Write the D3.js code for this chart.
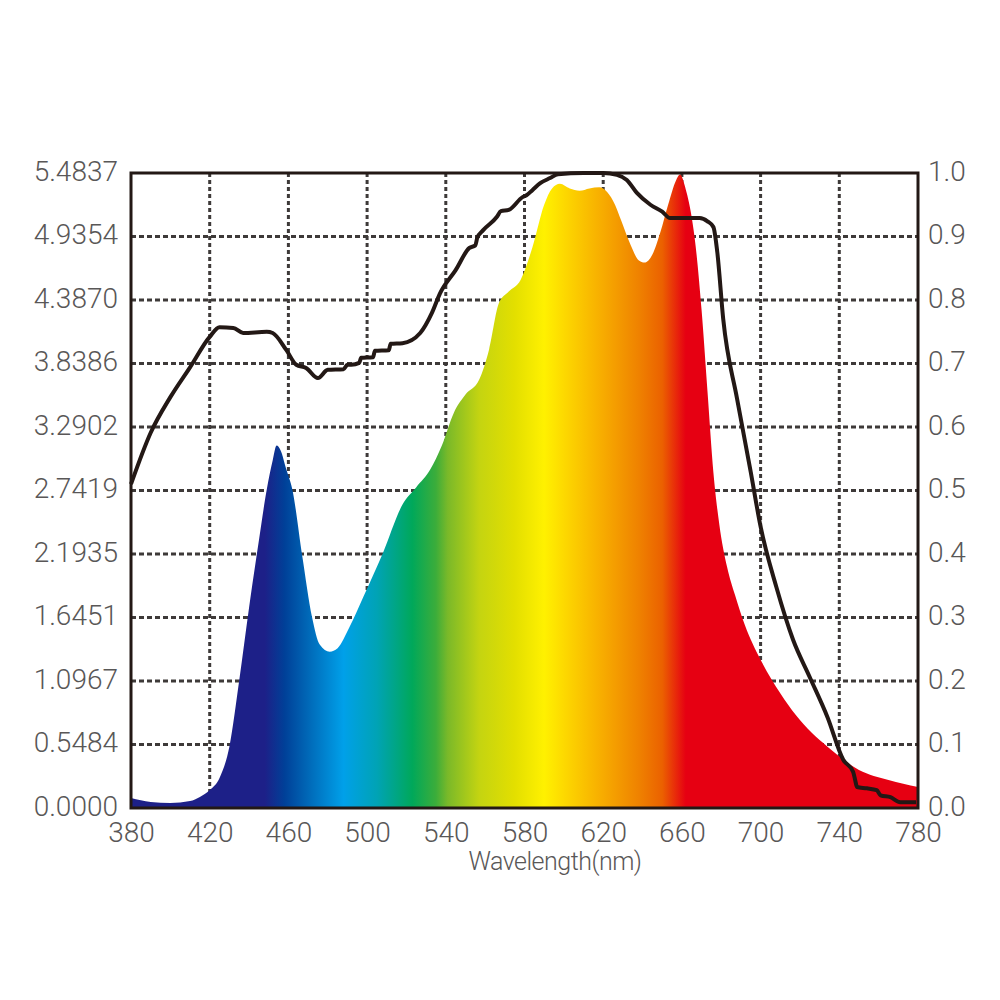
<!DOCTYPE html>
<head>
  <meta charset="utf-8">
  <script src="https://d3js.org/d3.v7.min.js"></script>
  <style>
    body {
      margin: 0;
      background: #fff;
    }

    text {
      font-family: Roboto, "Open Sans", sans-serif;
      font-weight: 300;
      fill: #595757;
    }

    .grid line {
      stroke: #3e3a39;
      stroke-width: 3;
    }
  </style>
</head>

<body>
  <div id="chart"></div>

  <script>
    // spectrum: wavelength (nm) and relative power (left axis)
    var specNm  = [380, 390, 400, 410, 415, 420, 425, 430, 435, 440, 445, 449, 452, 454, 456, 459, 462, 467, 472, 476, 481, 485, 491, 498, 508, 518, 525, 532, 538, 544, 550, 557, 562, 567, 572, 578, 584, 590, 594, 598, 603, 608, 613, 618, 622, 626, 629, 634, 638, 641, 645, 649, 653, 657, 659, 662, 665, 667, 670, 673, 676, 679, 683, 687, 692, 700, 710, 718, 726, 734, 750, 765, 780];
    var specVal = [0.086, 0.052, 0.043, 0.060, 0.095, 0.155, 0.26, 0.53, 1.10, 1.73, 2.31, 2.75, 3.00, 3.13, 3.09, 2.92, 2.75, 2.18, 1.65, 1.41, 1.35, 1.38, 1.56, 1.82, 2.20, 2.62, 2.77, 2.92, 3.13, 3.41, 3.57, 3.70, 3.96, 4.36, 4.46, 4.56, 4.84, 5.21, 5.35, 5.39, 5.35, 5.33, 5.35, 5.36, 5.32, 5.21, 5.08, 4.86, 4.73, 4.71, 4.78, 4.97, 5.21, 5.42, 5.47, 5.34, 5.10, 4.85, 4.30, 3.60, 2.90, 2.45, 2.08, 1.84, 1.58, 1.28, 0.99, 0.80, 0.65, 0.53, 0.328, 0.242, 0.181];

    // black curve: wavelength (nm) and relative value (right axis)
    var lineNm  = [380, 390, 400, 410, 420, 425, 432, 437, 449, 452, 459, 464, 469, 475, 480, 488, 490, 492, 496, 497, 503, 504, 511, 512, 518, 527, 533, 537, 545, 552, 555, 556, 559, 566, 568, 572, 579, 581, 584, 588, 593, 597, 610, 620, 627, 632, 637, 644, 650, 654, 669, 673, 676, 678, 681, 688, 695, 700, 708, 716.5, 725, 734, 742, 747, 748, 749, 754, 759, 761, 766, 771, 779];
    var lineVal = [0.510, 0.591, 0.647, 0.694, 0.742, 0.757, 0.756, 0.748, 0.750, 0.748, 0.721, 0.698, 0.693, 0.677, 0.690, 0.691, 0.698, 0.698, 0.701, 0.709, 0.710, 0.720, 0.721, 0.731, 0.732, 0.748, 0.780, 0.810, 0.847, 0.882, 0.886, 0.898, 0.910, 0.931, 0.940, 0.942, 0.962, 0.965, 0.973, 0.984, 0.992, 0.998, 1.0, 1.0, 0.997, 0.989, 0.969, 0.950, 0.939, 0.929, 0.929, 0.924, 0.915, 0.875, 0.770, 0.645, 0.529, 0.443, 0.348, 0.265, 0.206, 0.143, 0.076, 0.057, 0.045, 0.033, 0.031, 0.028, 0.020, 0.017, 0.009, 0.009];

    var xTicks = [380, 420, 460, 500, 540, 580, 620, 660, 700, 740, 780];
    var leftTicks = ["0.0000", "0.5484", "1.0967", "1.6451", "2.1935", "2.7419", "3.2902", "3.8386", "4.3870", "4.9354", "5.4837"];
    var rightTicks = ["0.0", "0.1", "0.2", "0.3", "0.4", "0.5", "0.6", "0.7", "0.8", "0.9", "1.0"];

    // colour stops across the wavelength range
    var stopNm  = [380, 448, 458, 470, 488, 505, 523, 535, 541, 557, 575, 590, 603, 620, 638, 650, 662, 780];
    var stopCol = ["#1d2088", "#1d2088", "#004098", "#0068b7", "#00a0e9", "#00a3b5", "#00a85a", "#3cad3a", "#7ab929", "#c4d411", "#e3df00", "#fff100", "#fcd200", "#f7ab00", "#ef8200", "#eb6100", "#e60012", "#e60012"];

    (function() {
      var width = 1000,
          height = 1000,
          mLeft = 131, mRight = 918, mTop = 173, mBottom = 808;

      var yMax = 5.4837;

      var x = d3.scaleLinear().domain([380, 780]).range([mLeft, mRight]);
      var y = d3.scaleLinear().domain([0, yMax]).range([mBottom, mTop]);
      var y2 = d3.scaleLinear().domain([0, 1]).range([mBottom, mTop]);

      var svg = d3.select("#chart").append("svg")
        .attr("width", width)
        .attr("height", height);

      var grad = svg.append("defs").append("linearGradient")
        .attr("id", "spectrum")
        .attr("gradientUnits", "userSpaceOnUse")
        .attr("x1", x(380)).attr("x2", x(780))
        .attr("y1", 0).attr("y2", 0);

      grad.selectAll("stop")
          .data(stopNm)
        .enter().append("stop")
          .attr("offset", function(d) { return (d - 380) / 400; })
          .attr("stop-color", function(d, i) { return stopCol[i]; });

      // grid
      var grid = svg.append("g").attr("class", "grid");

      grid.selectAll("line.v")
          .data(xTicks.slice(1, -1))
        .enter().append("line")
          .attr("class", "v")
          .attr("x1", x).attr("x2", x)
          .attr("y1", mTop).attr("y2", mBottom)
          .attr("stroke-dasharray", "4,3");

      grid.selectAll("line.h")
          .data(d3.range(1, 10))
        .enter().append("line")
          .attr("class", "h")
          .attr("x1", mLeft).attr("x2", mRight)
          .attr("y1", function(d) { return y2(d / 10); })
          .attr("y2", function(d) { return y2(d / 10); })
          .attr("stroke-dasharray", "5,3");

      // spectrum area
      var area = d3.area()
        .x(function(d, i) { return x(specNm[i]); })
        .y0(y(0))
        .y1(function(d) { return y(d); })
        .curve(d3.curveMonotoneX);

      svg.append("path")
        .datum(specVal)
        .attr("d", area)
        .attr("fill", "url(#spectrum)");

      // black curve
      var line = d3.line()
        .x(function(d, i) { return x(lineNm[i]); })
        .y(function(d) { return y2(d); })
        .curve(d3.curveMonotoneX);

      svg.append("path")
        .datum(lineVal)
        .attr("d", line)
        .attr("fill", "none")
        .attr("stroke", "#231815")
        .attr("stroke-width", 4)
        .attr("stroke-linejoin", "round");

      // frame
      svg.append("rect")
        .attr("x", mLeft).attr("y", mTop)
        .attr("width", mRight - mLeft).attr("height", mBottom - mTop)
        .attr("fill", "none")
        .attr("stroke", "#231815")
        .attr("stroke-width", 3);

      // axes
      var tickVals = d3.range(0, 11).map(function(d) { return d / 10; });

      var leftAxis = d3.axisLeft(y2)
        .tickValues(tickVals)
        .tickSize(0).tickPadding(13)
        .tickFormat(function(d, i) { return leftTicks[i]; });

      var rightAxis = d3.axisRight(y2)
        .tickValues(tickVals)
        .tickSize(0).tickPadding(10)
        .tickFormat(function(d, i) { return rightTicks[i]; });

      var bottomAxis = d3.axisBottom(x)
        .tickValues(xTicks)
        .tickSize(0).tickPadding(14);

      [svg.append("g").attr("transform", "translate(" + mLeft + ",0)").call(leftAxis),
       svg.append("g").attr("transform", "translate(" + mRight + ",0)").call(rightAxis),
       svg.append("g").attr("transform", "translate(0," + mBottom + ")").call(bottomAxis)]
        .forEach(function(g, k) {
          g.select(".domain").remove();
          g.selectAll("text")
            .style("font-size", "28px")
            .attr("fill", null);
          if (k < 2) g.selectAll("text").attr("dy", "0.25em");
        });

      svg.append("text")
        .attr("x", 555)
        .attr("y", 870)
        .attr("text-anchor", "middle")
        .style("font-size", "25px")
        .style("letter-spacing", "-0.5px")
        .text("Wavelength(nm)");
    })();
  </script>
</body>
